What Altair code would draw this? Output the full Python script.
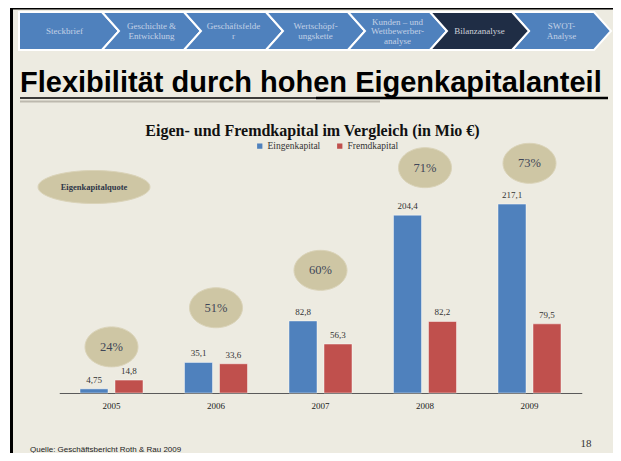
import altair as alt
import pandas as pd

# ---------------- data ----------------
years = ["2005", "2006", "2007", "2008", "2009"]
eigenkapital = [4.75, 35.1, 82.8, 204.4, 217.1]
fremdkapital = [14.8, 33.6, 56.3, 82.2, 79.5]
series_names = ["Eingenkapital", "Fremdkapital"]
quote_labels = ["24%", "51%", "60%", "71%", "73%"]
# vertical placement of the quota bubbles (data units of the value axis)
quote_anchor = [53, 98, 141, 259, 264]

nav_labels = [
    "Steckbrief",
    "Geschichte &\nEntwicklung",
    "Geschäftsfelde\nr",
    "Wertschöpf-\nungskette",
    "Kunden – und\nWettbewerber-\nanalyse",
    "Bilanzanalyse",
    "SWOT-\nAnalyse",
]
active_nav = 5

slide_title = "Flexibilität durch hohen Eigenkapitalanteil"
chart_title = "Eigen- und Fremdkapital im Vergleich (in Mio €)"
bubble_title = "Eigenkapitalquote"
source_text = "Quelle: Geschäftsbericht Roth & Rau 2009"
page_no = "18"

# ---------------- layout / style ----------------
W, H = 605, 445
OFF = 8  # page margin
BG = "#EDEBE1"
BLUE = "#4F81BD"
RED = "#C0504D"
NAVY = "#1F2D45"
KHAKI = "#CEC6A4"
SERIF = "Liberation Serif"
SANS = "Liberation Sans"
BASE = 393 - OFF          # pixel of value 0
PX_PER_UNIT = 0.87
LH = 9.5                  # nav line height

rows = []
for i, y in enumerate(years):
    rows.append({"year": y, "series": series_names[0], "value": eigenkapital[i]})
    rows.append({"year": y, "series": series_names[1], "value": fremdkapital[i]})
df = pd.DataFrame(rows)
df["label"] = df["value"].map(lambda v: f"{v:g}".replace(".", ","))

qdf = pd.DataFrame({"year": years, "quote": quote_labels, "anchor": quote_anchor})

xs = alt.Scale(domain=years, range=[59.25 - OFF, 581.75 - OFF], paddingInner=0, paddingOuter=0)
ys = alt.Scale(domain=[0, 250], range=[BASE, BASE - 250 * PX_PER_UNIT], nice=False, zero=True)
xo = alt.Scale(domain=series_names, paddingInner=0.2, paddingOuter=0.593)
cs = alt.Scale(domain=series_names, range=[BLUE, RED])

xaxis = alt.Axis(title=None, offset=-(H - BASE), domainColor="#5A5A5A", domainWidth=1.2,
                 ticks=False, labelFont=SERIF, labelFontSize=9, labelColor="#222",
                 labelPadding=8, labelAngle=0, grid=False)

X = alt.X("year:N", scale=xs, axis=xaxis)
XO = alt.XOffset("series:N", scale=xo, sort=series_names)
Y = alt.Y("value:Q", scale=ys, axis=None)

bars = alt.Chart(df).mark_bar(stroke="white", strokeOpacity=0.45, strokeWidth=1).encode(
    x=X, xOffset=XO, y=Y,
    color=alt.Color("series:N", scale=cs, sort=series_names,
                    legend=alt.Legend(title=None, orient="none", legendX=247, legendY=133,
                                      direction="horizontal", symbolType="square",
                                      symbolSize=28, symbolStrokeWidth=0,
                                      labelFont=SERIF, labelFontSize=9.5, labelColor="#333",
                                      columnPadding=14, labelOffset=3)),
)

values = alt.Chart(df).mark_text(baseline="bottom", dy=-4, font=SERIF, fontSize=9,
                                 color="#333").encode(x=X, xOffset=XO, y=Y, text="label:N")

ELL = "M-26.5,0A26.5,20,0,1,1,26.5,0A26.5,20,0,1,1,-26.5,0Z"
YQ = alt.Y("anchor:Q", scale=ys, axis=None)
bubbles = alt.Chart(qdf).mark_point(shape=ELL, size=4, filled=True, color=KHAKI,
                                    stroke="#DAD3B8", strokeWidth=1, opacity=1).encode(x=X, y=YQ)
bubble_txt = alt.Chart(qdf).mark_text(font=SERIF, fontSize=12.5, color="#3F4658").encode(
    x=X, y=YQ, text="quote:N")

# ---------------- slide decoration ----------------
one = pd.DataFrame({"k": [0]})

notches = [19, 102, 184, 266, 348, 430, 512, 594]
DEPTH = 17
nav_rows = []
for i, lab in enumerate(nav_labels):
    x0, x1 = notches[i], notches[i + 1]
    w = x1 - x0
    if i == 0:
        path = f"M0,-19L{w},-19L{w + DEPTH},0L{w},19L0,19Z"
        cx = (x0 + x1) / 2 + 4
    else:
        path = f"M0,-19L{w},-19L{w + DEPTH},0L{w},19L0,19L{DEPTH},0Z"
        cx = (x0 + x1) / 2 + DEPTH / 2
    n_lines = lab.count("\n") + 1
    nav_rows.append({"px": x0 - OFF, "py": 31 - OFF, "path": path, "label": lab,
                     "tx": cx - OFF, "ty": 31 - OFF - (n_lines - 1) * LH / 2,
                     "active": i == active_nav})
nav = pd.DataFrame(nav_rows)

PX = alt.X("px:Q", scale=None, axis=None)
PY = alt.Y("py:Q", scale=None, axis=None)
TX = alt.X("tx:Q", scale=None, axis=None)
TY = alt.Y("ty:Q", scale=None, axis=None)

nav_blue = alt.Chart(nav).transform_filter("!datum.active").mark_point(
    size=4, filled=True, color=BLUE, stroke="white", strokeWidth=2, opacity=1).encode(
    x=PX, y=PY, shape=alt.Shape("path:N", scale=None))
nav_dark = alt.Chart(nav).transform_filter("datum.active").mark_point(
    size=4, filled=True, color=NAVY, stroke="white", strokeWidth=2, opacity=1).encode(
    x=PX, y=PY, shape=alt.Shape("path:N", scale=None))
nav_text = alt.Chart(nav).transform_filter("!datum.active").mark_text(
    font=SERIF, fontSize=9, lineHeight=LH, lineBreak="\n", color="#C3D1E6").encode(
    x=TX, y=TY, text="label:N")
nav_text_a = alt.Chart(nav).transform_filter("datum.active").mark_text(
    font=SERIF, fontSize=9, lineHeight=LH, lineBreak="\n", color="#CDD1DA").encode(
    x=TX, y=TY, text="label:N")


def text(s, x, y, **kw):
    return alt.Chart(one).mark_text(text=s, **kw).encode(x=alt.value(x - OFF), y=alt.value(y - OFF))


def hrule(x1, x2, y, color, width):
    return alt.Chart(one).mark_rule(color=color, strokeWidth=width).encode(
        x=alt.value(x1 - OFF), x2=alt.value(x2 - OFF), y=alt.value(y - OFF))


def vrule(x, y1, y2, color, width):
    return alt.Chart(one).mark_rule(color=color, strokeWidth=width).encode(
        x=alt.value(x - OFF), y=alt.value(y1 - OFF), y2=alt.value(y2 - OFF))


frame = [
    hrule(8, 621, 8.7, "black", 1.6),
    vrule(9, 8, 461, "white", 2),
    vrule(11.5, 8, 461, "black", 3),
]

title_layers = [
    text(slide_title, 20, 92, font=SANS, fontSize=29, fontWeight="bold", color="black",
         align="left", baseline="alphabetic"),
    hrule(20, 380, 101.5, "#BDB9AE", 2),
    hrule(20, 316, 98, "black", 1.5),
    hrule(316, 608, 98, "black", 2.5),
]

chart_title_layer = text(chart_title, 312.5, 136, font=SERIF, fontSize=16, fontWeight="bold",
                         color="#111", align="center", baseline="alphabetic")

ELL2 = "M-56,0A56,16.5,0,1,1,56,0A56,16.5,0,1,1,-56,0Z"
quote_box = alt.Chart(one).mark_point(shape=ELL2, size=4, filled=True, color=KHAKI,
                                      stroke="#DAD3B8", strokeWidth=1, opacity=1).encode(
    x=alt.value(94 - OFF), y=alt.value(187 - OFF))
quote_box_txt = text(bubble_title, 94, 187, font=SERIF, fontSize=8.5, fontWeight="bold",
                     color="#2E3648", align="center", baseline="middle")

footer = [
    text(source_text, 30, 452, font=SANS, fontSize=8, color="#222", align="left",
         baseline="alphabetic"),
    text(page_no, 586, 444, font=SERIF, fontSize=11, color="#333", align="center",
         baseline="middle"),
]

layers = (frame + [nav_blue, nav_dark, nav_text, nav_text_a] + title_layers +
          [chart_title_layer, quote_box, quote_box_txt, bars, values, bubbles, bubble_txt] + footer)

chart = alt.layer(*layers).properties(
    width=W, height=H, background=BG, padding=0,
    autosize=alt.AutoSizeParams(type="none"),
).configure_view(stroke=None)

chart.save("out.html", embed_options={"renderer": "svg", "actions": False})
